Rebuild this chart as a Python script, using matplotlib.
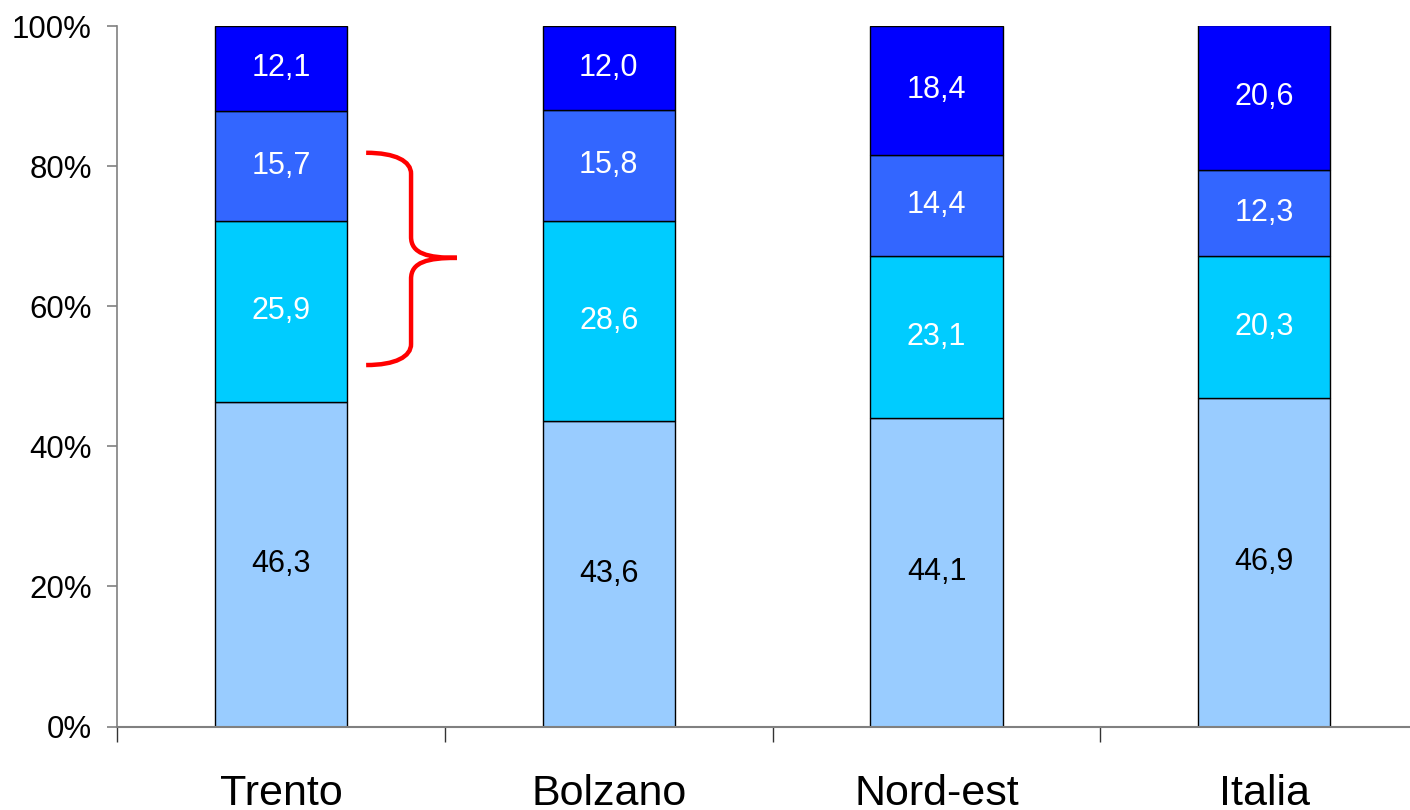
import matplotlib
matplotlib.use("Agg")
import matplotlib.pyplot as plt
from matplotlib.path import Path
from matplotlib.patches import PathPatch
import numpy as np

plt.rcParams['font.family'] = ['Liberation Sans', 'DejaVu Sans']

categories = ["Trento", "Bolzano", "Nord-est", "Italia"]
seg1 = [46.3, 43.6, 44.1, 46.9]
seg2 = [25.9, 28.6, 23.1, 20.3]
seg3 = [15.7, 15.8, 14.4, 12.3]
seg4 = [12.1, 12.0, 18.4, 20.6]
labels1 = ["46,3", "43,6", "44,1", "46,9"]
labels2 = ["25,9", "28,6", "23,1", "20,3"]
labels3 = ["15,7", "15,8", "14,4", "12,3"]
labels4 = ["12,1", "12,0", "18,4", "20,6"]
yticks = [0, 20, 40, 60, 80, 100]
yticklabels = ["0%", "20%", "40%", "60%", "80%", "100%"]

colors = ["#99CCFF", "#00CCFF", "#3366FF", "#0000FF"]
text_colors = ["black", "white", "white", "white"]

fig = plt.figure(figsize=(14.1, 8.1), dpi=100)
ax = fig.add_axes([117/1410, 1-726.5/810, 1-117/1410, (726.5-26)/810])

x = np.arange(len(categories))
width = 0.403
bottom = np.zeros(len(categories))
series = [seg1, seg2, seg3, seg4]
labs = [labels1, labels2, labels3, labels4]
for vals, col, tc, lab in zip(series, colors, text_colors, labs):
    vals = np.array(vals)
    ax.bar(x, vals, width, bottom=bottom, color=col, edgecolor="black", linewidth=1.0, zorder=2)
    for xi, b, v, l in zip(x, bottom, vals, lab):
        ax.text(xi, b + v / 2, l, ha="center", va="center", color=tc, fontsize=22, zorder=3)
    bottom = bottom + vals

ax.set_xlim(-0.5, (1410 - 282) / 327.5)
ax.set_ylim(0, 100)

for s in ["top", "right"]:
    ax.spines[s].set_visible(False)
ax.spines["left"].set_color("#808080")
ax.spines["bottom"].set_color("#808080")
ax.spines["left"].set_linewidth(1.2)
ax.spines["bottom"].set_linewidth(1.5)

ax.set_yticks(yticks)
ax.set_yticklabels(yticklabels, fontsize=22.5)
ax.tick_params(axis="y", length=7, width=1.2, color="#808080", pad=11)

ax.set_xticks(x)
ax.set_xticklabels(categories, fontsize=31)
ax.tick_params(axis="x", which="major", length=0, pad=34)
ax.set_xticks(np.arange(-0.5, len(categories) - 0.5, 1.0), minor=True)
ax.tick_params(axis="x", which="minor", length=11, width=1.0, color="#333333")

# red brace beside the Trento bar (annotation)
xl, xm, xt = 0.26, 0.397, 0.537
yt, ym, yb = 81.9, 66.9, 51.6
verts = [
    (xl, yt), (xl + 0.09, yt), (xm, yt - 1.2), (xm, yt - 3.0),
    (xm, ym + 3.0),
    (xm, ym + 0.6), (xm + 0.05, ym), (xt, ym),
    (xm + 0.05, ym), (xm, ym - 0.6), (xm, ym - 3.0),
    (xm, yb + 3.0),
    (xm, yb + 1.2), (xl + 0.09, yb), (xl, yb),
]
codes = [Path.MOVETO, Path.CURVE4, Path.CURVE4, Path.CURVE4,
         Path.LINETO,
         Path.CURVE4, Path.CURVE4, Path.CURVE4,
         Path.CURVE4, Path.CURVE4, Path.CURVE4,
         Path.LINETO,
         Path.CURVE4, Path.CURVE4, Path.CURVE4]
ax.add_patch(PathPatch(Path(verts, codes), facecolor="none", edgecolor="red", linewidth=3.2, zorder=4, clip_on=False))

fig.savefig("out.png", dpi=100)
